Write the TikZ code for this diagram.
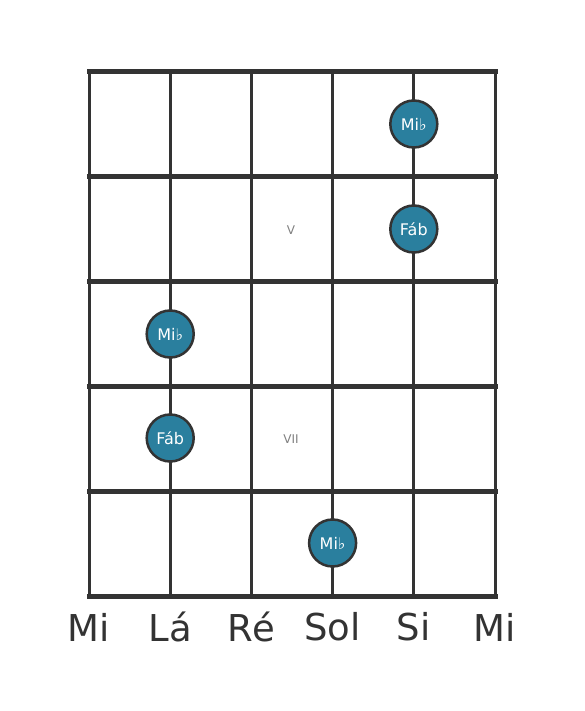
\documentclass[tikz,border=0pt]{standalone}
\usepackage{fontspec}
\setmainfont{DejaVu Sans}
\definecolor{gridgray}{HTML}{333333}
\definecolor{dotblue}{HTML}{2A7F9E}
\newcommand{\sx}{81.2}
\newcommand{\fy}{104.8}

\begin{document}
\begin{tikzpicture}[x=1pt, y=-1pt,
    fret/.style={draw=gridgray, line width=5pt, line cap=rect},
    string/.style={draw=gridgray, line width=3pt},
    dot/.style={circle, draw=gridgray, line width=2.5pt, fill=dotblue, minimum size=47pt, inner sep=0pt, text=white, font=\fontsize{16}{16}\selectfont},
    mark label/.style={text=gray, font=\fontsize{12}{12}\selectfont},
    name label/.style={text=gridgray, font=\fontsize{37}{37}\selectfont}]
    \useasboundingbox (0,0) rectangle (584,711);

    % Strings
    \draw[string] (89,72) -- (89,596);
    \draw[string] (89+\sx,72) -- (89+\sx,596);
    \draw[string] (89+2*\sx,72) -- (89+2*\sx,596);
    \draw[string] (89+3*\sx,72) -- (89+3*\sx,596);
    \draw[string] (89+4*\sx,72) -- (89+4*\sx,596);
    \draw[string] (495,72) -- (495,596);

    % Frets
    \draw[fret] (89,72) -- (495,72);
    \draw[fret] (89,72+\fy) -- (495,72+\fy);
    \draw[fret] (89,72+2*\fy) -- (495,72+2*\fy);
    \draw[fret] (89,72+3*\fy) -- (495,72+3*\fy);
    \draw[fret] (89,72+4*\fy) -- (495,72+4*\fy);
    \draw[fret] (89,596) -- (495,596);

    % Fret marks
    \node[mark label] (mark-v) at (291,230) {V};
    \node[mark label] (mark-vii) at (291,439) {VII};

    % Notes
    \node[dot] (note-5-1) at (89+4*\sx,124) {Mi♭};
    \node[dot] (note-5-2) at (89+4*\sx,229) {Fáb};
    \node[dot] (note-2-3) at (89+\sx,334) {Mi♭};
    \node[dot] (note-2-4) at (89+\sx,438) {Fáb};
    \node[dot] (note-4-5) at (89+3*\sx,543) {Mi♭};

    % String names
    \node[name label] (name-1) at (89,627) {Mi};
    \node[name label] (name-2) at (89+\sx,627) {Lá};
    \node[name label] (name-3) at (89+2*\sx,627) {Ré};
    \node[name label] (name-4) at (89+3*\sx,627) {Sol};
    \node[name label] (name-5) at (89+4*\sx,627) {Si};
    \node[name label] (name-6) at (495,627) {Mi};

\end{tikzpicture}
\end{document}
